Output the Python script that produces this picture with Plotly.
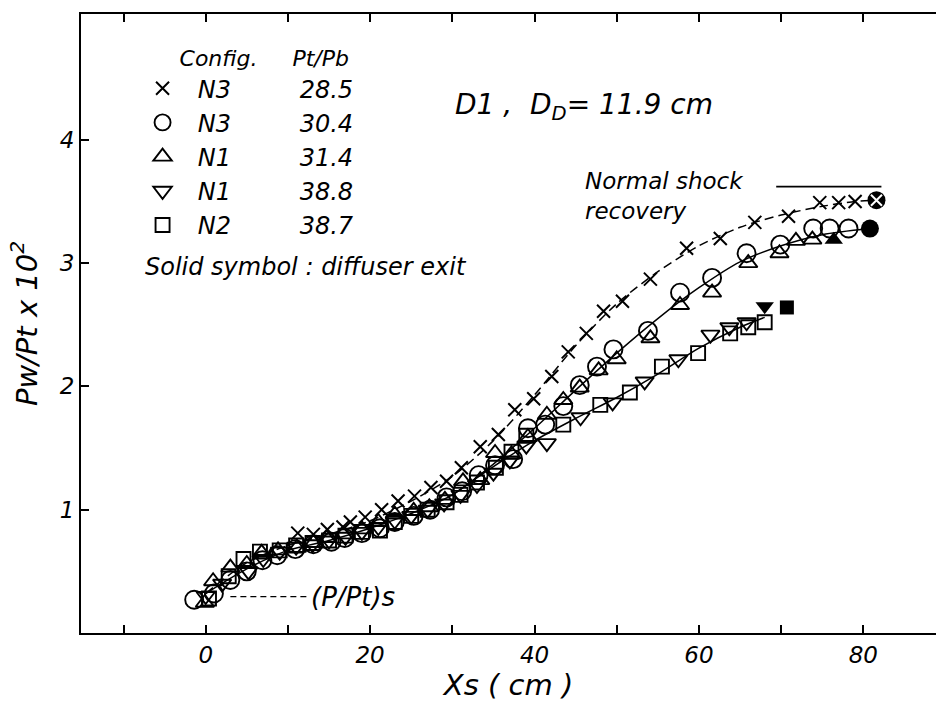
import plotly.graph_objects as go

# Wall pressure distribution along the diffuser, Pw/Pt x 10^2 versus Xs (cm)

# Config. N3, Pt/Pb = 28.5  (x)
x_n3_285 = [11.2, 13.1, 14.8, 16.7, 17.6, 19.4, 21.4, 23.4, 25.4, 27.4, 29.3, 31.1, 33.4, 35.6,
            37.6, 39.9, 42.1, 44.1, 46.3, 48.4, 50.7, 54.1, 58.5, 62.6, 66.8, 70.9, 74.7, 77.0, 79.0]
y_n3_285 = [0.81, 0.80, 0.84, 0.86, 0.90, 0.94, 1.00, 1.07, 1.11, 1.18, 1.23, 1.34, 1.51, 1.61,
            1.81, 1.90, 2.08, 2.28, 2.43, 2.61, 2.69, 2.87, 3.12, 3.20, 3.33, 3.38, 3.49, 3.49, 3.50]

# Config. N3, Pt/Pb = 30.4  (circles)
x_n3_304 = [-1.4, 1.0, 3.0, 5.0, 6.9, 8.7, 10.9, 13.1, 15.3, 16.9, 19.0, 21.2, 23.0, 25.3, 27.3,
            29.3, 31.2, 33.2, 35.2, 37.4, 39.2, 41.3, 43.5, 45.5, 47.6, 49.6, 53.8, 57.7, 61.6,
            65.8, 69.9, 73.9, 75.9, 78.2]
y_n3_304 = [0.27, 0.32, 0.43, 0.50, 0.59, 0.63, 0.68, 0.72, 0.74, 0.77, 0.81, 0.85, 0.90, 0.95, 1.00,
            1.10, 1.15, 1.28, 1.36, 1.41, 1.66, 1.69, 1.84, 2.01, 2.16, 2.30, 2.45, 2.76, 2.88,
            3.08, 3.15, 3.28, 3.28, 3.28]

# Config. N1, Pt/Pb = 31.4  (up triangles)
x_n1_314 = [-0.1, 0.9, 3.0, 5.0, 6.8, 8.8, 11.1, 13.1, 14.7, 16.7, 19.0, 21.0, 23.0, 25.3, 27.2,
            29.1, 31.3, 33.4, 35.2, 37.2, 39.2, 41.5, 43.5, 45.5, 47.8, 50.0, 54.1, 57.7, 61.6,
            66.0, 69.8, 71.8, 73.8]
y_n1_314 = [0.245, 0.42, 0.53, 0.56, 0.65, 0.67, 0.69, 0.73, 0.77, 0.80, 0.84, 0.90, 0.96, 0.99, 1.02,
            1.08, 1.23, 1.24, 1.46, 1.45, 1.59, 1.77, 1.89, 1.99, 2.13, 2.22, 2.39, 2.66, 2.76,
            3.00, 3.08, 3.18, 3.19]

# Config. N1, Pt/Pb = 38.8  (down triangles)
x_n1_388 = [0.0, 2.0, 5.2, 7.0, 9.0, 11.0, 13.0, 15.0, 17.0, 19.0, 21.0, 23.0, 25.0, 27.0, 29.0,
            31.0, 33.0, 35.0, 37.0, 39.0, 41.5, 45.6, 49.5, 53.4, 57.5, 61.4, 63.7, 65.8]
y_n1_388 = [0.30, 0.40, 0.50, 0.60, 0.66, 0.70, 0.72, 0.75, 0.78, 0.82, 0.86, 0.91, 0.95, 1.00, 1.05,
            1.12, 1.20, 1.30, 1.40, 1.52, 1.54, 1.75, 1.87, 2.04, 2.22, 2.42, 2.48, 2.52]

# Config. N2, Pt/Pb = 38.7  (squares)
x_n2_387 = [0.4, 2.8, 4.6, 6.6, 9.0, 11.0, 13.0, 15.0, 17.0, 19.0, 21.2, 23.0, 25.0, 27.0, 29.3,
            31.0, 33.0, 35.3, 37.2, 39.0, 43.5, 48.0, 51.6, 55.5, 59.9, 63.8, 66.0, 68.0]
y_n2_387 = [0.28, 0.46, 0.60, 0.66, 0.67, 0.71, 0.73, 0.75, 0.79, 0.82, 0.83, 0.90, 0.95, 1.00, 1.06,
            1.12, 1.22, 1.34, 1.47, 1.60, 1.69, 1.85, 1.95, 2.16, 2.27, 2.43, 2.48, 2.52]

# Diffuser exit values (solid symbols)
exit_x = {"28.5": 81.6, "30.4": 80.8, "31.4": 76.4, "38.8": 68.0, "38.7": 70.7}
exit_y = {"28.5": 3.51, "30.4": 3.28, "31.4": 3.19, "38.8": 2.65, "38.7": 2.64}

# Faired curves through the data
curve_a_x = [0, 5, 10, 15, 20, 25, 30, 35, 40, 45, 50, 55, 60, 65, 70, 75, 79, 81.6]
curve_a_y = [0.32, 0.57, 0.71, 0.80, 0.91, 1.07, 1.27, 1.56, 1.93, 2.33, 2.67, 2.93, 3.14, 3.29,
             3.39, 3.46, 3.50, 3.51]
curve_b_x = [0, 5, 10, 15, 20, 25, 30, 35, 40, 45, 50, 55, 60, 65, 70, 75, 80.8]
curve_b_y = [0.32, 0.52, 0.67, 0.75, 0.85, 0.97, 1.12, 1.37, 1.66, 1.97, 2.27, 2.55, 2.80, 3.01,
             3.14, 3.23, 3.28]
curve_c_x = [30, 35, 40, 45, 50, 55, 60, 65, 68]
curve_c_y = [1.12, 1.35, 1.56, 1.74, 1.91, 2.10, 2.31, 2.48, 2.56]

# Normal shock recovery level
ns_recovery = 3.62
ns_x = [69.4, 82.2]

y_tickvals = [1, 2, 3, 4]
y_ticktext = ["1", "2", "3", "4"]

FONT = "DejaVu Sans"
INK = "black"
NB = "\u00a0"

fig = go.Figure()

# faired curves
fig.add_trace(go.Scatter(x=curve_a_x, y=curve_a_y, mode="lines", showlegend=False,
                         line=dict(color=INK, width=1.5, dash="9px,5px", shape="spline", smoothing=0.8),
                         hoverinfo="skip"))
fig.add_trace(go.Scatter(x=curve_b_x, y=curve_b_y, mode="lines", showlegend=False,
                         line=dict(color=INK, width=1.5, shape="spline", smoothing=0.8),
                         hoverinfo="skip"))
fig.add_trace(go.Scatter(x=curve_c_x, y=curve_c_y, mode="lines", showlegend=False,
                         line=dict(color=INK, width=1.5, shape="spline", smoothing=0.8),
                         hoverinfo="skip"))

series = [
    ("N3", "28.5", x_n3_285, y_n3_285, "x-thin", 13),
    ("N3", "30.4", x_n3_304, y_n3_304, "circle-open", 18),
    ("N1", "31.4", x_n1_314, y_n1_314, "triangle-up-open", 16),
    ("N1", "38.8", x_n1_388, y_n1_388, "triangle-down-open", 16),
    ("N2", "38.7", x_n2_387, y_n2_387, "square-open", 14),
]

for cfg, ratio, xs, ys, sym, size in series:
    fig.add_trace(go.Scatter(
        x=xs, y=ys, mode="markers",
        name=NB * 2 + cfg + NB * 9 + ratio,
        marker=dict(symbol=sym, size=size, color=INK,
                    line=dict(color=INK, width=2 if sym == "x-thin" else 1.9)),
    ))

# solid symbols at diffuser exit
fig.add_trace(go.Scatter(x=[exit_x["28.5"]], y=[exit_y["28.5"]], mode="markers", showlegend=False,
                         marker=dict(symbol="circle", size=18, color=INK)))
fig.add_trace(go.Scatter(x=[exit_x["28.5"]], y=[exit_y["28.5"]], mode="markers", showlegend=False,
                         marker=dict(symbol="x-thin", size=11, color="white",
                                     line=dict(color="white", width=2))))
for key, sym, size in [("30.4", "circle", 18), ("31.4", "triangle-up", 16),
                       ("38.8", "triangle-down", 16), ("38.7", "square", 14)]:
    fig.add_trace(go.Scatter(x=[exit_x[key]], y=[exit_y[key]], mode="markers", showlegend=False,
                             marker=dict(symbol=sym, size=size, color=INK)))

# normal shock recovery line
fig.add_trace(go.Scatter(x=ns_x, y=[ns_recovery, ns_recovery], mode="lines", showlegend=False,
                         line=dict(color=INK, width=1.8), hoverinfo="skip"))

# static pressure leader
fig.add_shape(type="line", x0=3.0, x1=12.4, y0=0.295, y1=0.295, xref="x", yref="y",
              line=dict(color=INK, width=1.3, dash="6px,4px"))

it = dict(family=FONT, color=INK, style="italic")

fig.add_annotation(x=12.6, y=0.295, xref="x", yref="y", text="(P/Pt)s", showarrow=False,
                   xanchor="left", yanchor="middle", font=dict(size=26, **it))
fig.add_annotation(x=45.9, y=3.545, xref="x", yref="y", text="Normal shock<br>recovery",
                   showarrow=False, align="left", xanchor="left", yanchor="middle",
                   font=dict(size=23, **it))
fig.add_annotation(x=30.1, y=4.27, xref="x", yref="y",
                   text="D1" + NB + "," + NB * 2 + "D<sub>D</sub>= 11.9 cm", showarrow=False,
                   xanchor="left", yanchor="middle", font=dict(size=28, **it))
fig.add_annotation(x=-7.6, y=2.97, xref="x", yref="y", text="Solid symbol : diffuser exit",
                   showarrow=False, xanchor="left", yanchor="middle", font=dict(size=24, **it))

fig.update_layout(
    width=936, height=704,
    margin=dict(l=81, r=0, t=14, b=71),
    paper_bgcolor="white", plot_bgcolor="white",
    font=dict(family=FONT, color=INK, style="italic"),
    showlegend=True,
    legend=dict(
        x=0.072, y=0.962, xanchor="left", yanchor="top",
        bgcolor="rgba(0,0,0,0)", borderwidth=0,
        font=dict(size=24, **it),
        title=dict(text=NB * 5 + "Config." + NB * 5 + "Pt/Pb", font=dict(size=22, **it), side="top"),
        itemclick=False, itemdoubleclick=False,
    ),
    xaxis=dict(
        range=[-15.17, 88.84], showgrid=False, zeroline=False,
        showline=True, linecolor=INK, linewidth=2, mirror="ticks",
        ticks="inside", ticklen=8, tickwidth=1.5, tickcolor=INK,
        tick0=0, dtick=20,
        minor=dict(dtick=10, ticks="inside", ticklen=8, tickwidth=1.5, tickcolor=INK, showgrid=False),
        tickfont=dict(size=23, **it),
        title=dict(text="Xs ( cm )", font=dict(size=29, **it), standoff=6),
    ),
    yaxis=dict(
        range=[0, 5.02], showgrid=False, zeroline=False,
        showline=True, linecolor=INK, linewidth=2, mirror=False,
        ticks="inside", ticklen=8, tickwidth=1.5, tickcolor=INK,
        tickvals=y_tickvals, ticktext=y_ticktext,
        tickfont=dict(size=23, **it),
        title=dict(text="Pw/Pt x 10<sup>2</sup>", font=dict(size=29, **it), standoff=14),
    ),
)

fig.write_html("out.html")
